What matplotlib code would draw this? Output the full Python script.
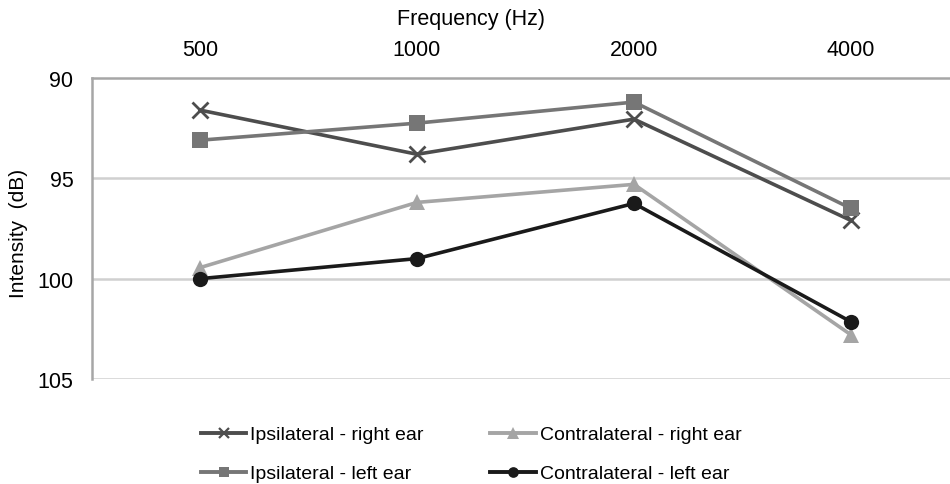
import matplotlib
matplotlib.use("Agg")
import matplotlib.pyplot as plt
from matplotlib.lines import Line2D

plt.rcParams['font.family'] = ['Liberation Sans', 'DejaVu Sans']

frequencies = ["500", "1000", "2000", "4000"]
ipsi_right = [91.6, 93.8, 92.05, 97.1]
ipsi_left = [93.1, 92.25, 91.2, 96.5]
contra_right = [99.45, 96.2, 95.3, 102.8]
contra_left = [100.0, 99.0, 96.25, 102.15]
yticks = [90, 95, 100, 105]

fig = plt.figure(figsize=(9.5, 4.85), dpi=100)
ax = fig.add_axes([91.5/950, 1-380/485, 868/950, 301/485])

x = list(range(len(frequencies)))
series = [
    ("Ipsilateral - right ear", ipsi_right, "#4d4d4d", "x", 11, 2),
    ("Ipsilateral - left ear", ipsi_left, "#767676", "s", 11, 0),
    ("Contralateral - right ear", contra_right, "#a5a5a5", "^", 12, 0),
    ("Contralateral - left ear", contra_left, "#1a1a1a", "o", 11, 0),
]
for label, vals, col, mk, ms, mew in series:
    ax.plot(x, vals, color=col, lw=2.6, marker=mk, ms=ms,
            markeredgewidth=mew if mew else 0, markerfacecolor=col,
            markeredgecolor=col, label=label, zorder=3)

ax.set_xlim(-0.5, 3.5)
ax.set_ylim(105, 90)
ax.set_yticks(yticks)
ax.set_yticklabels([str(v) for v in yticks], fontsize=15.5)
ax.set_xticks(x)
ax.set_xticklabels(frequencies, fontsize=15.5)
ax.xaxis.tick_top()
ax.tick_params(axis='x', length=0, pad=13)
ax.tick_params(axis='y', length=0, pad=13)
for s in ['right', 'bottom']:
    ax.spines[s].set_visible(False)
for s in ['top', 'left']:
    ax.spines[s].set_color('#a6a6a6')
    ax.spines[s].set_linewidth(1.8)
for v in yticks[1:]:
    ax.axhline(v, color='#d0d0d0', lw=1.8, zorder=1)

fig.text(471/950, 1-20/485, "Frequency (Hz)", ha='center', va='center', fontsize=15.5)
fig.text(19/950, 1-233/485, "Intensity  (dB)", ha='center', va='center', rotation=90, fontsize=15)

handles = []
for label, vals, col, mk, ms, mew in series:
    handles.append(Line2D([], [], color=col, lw=2.8, marker=mk, ms=ms*0.7,
                          markeredgewidth=mew*0.8 if mew else 0,
                          markerfacecolor=col, markeredgecolor=col, label=label))
fig.legend(handles=handles, loc='center', bbox_to_anchor=(471/950, 1-455/485),
           ncol=2, frameon=False, fontsize=14, handlelength=2.35,
           handletextpad=0.2, columnspacing=3.4, labelspacing=1.1,
           borderpad=0, borderaxespad=0)

fig.savefig("out.png", dpi=100)
